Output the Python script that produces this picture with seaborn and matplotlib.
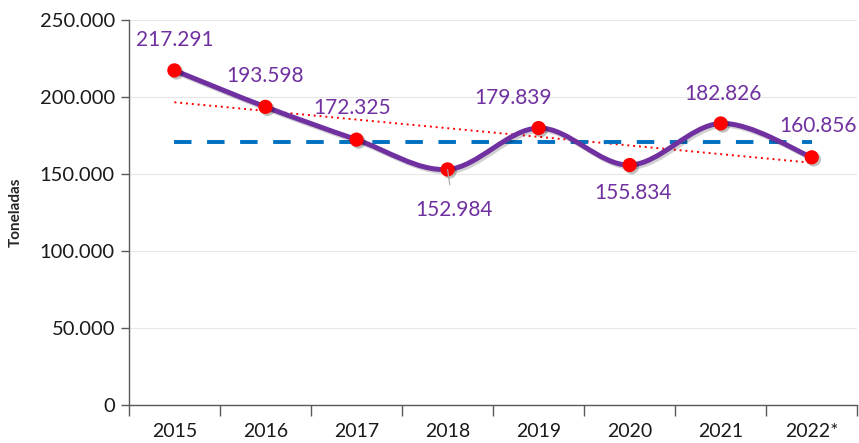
import numpy as np
import pandas as pd
import matplotlib
matplotlib.use("Agg")
import matplotlib.pyplot as plt
import matplotlib.patheffects as pe
from matplotlib.path import Path
from matplotlib.patches import PathPatch
from matplotlib.ticker import FuncFormatter, FixedLocator
import seaborn as sns

# --- dados ---
anos = ["2015", "2016", "2017", "2018", "2019", "2020", "2021", "2022*"]
toneladas = [217291, 193598, 172325, 152984, 179839, 155834, 182826, 160856]
media_ref = 171000  # linha tracejada azul

# deslocamento dos rótulos (pixels) em relação a cada ponto
label_offsets = [(0, 30), (0, 31), (-4, 32), (6, -41), (-26, 30), (3, -28), (2, 29), (6, 31)]

ROXO = "#7030A0"
VERMELHO = "#FF0000"
AZUL = "#0070C0"

df = pd.DataFrame({"ano": anos, "x": np.arange(len(anos)), "t": toneladas})

sns.set_theme(style="white")
plt.rcParams["font.family"] = ["Lato", "DejaVu Sans"]

fig = plt.figure(figsize=(8.59, 4.43), dpi=100)
ax = fig.add_axes([0.150, 0.0858, 0.848, 0.869])

# curva suavizada (estilo Excel) a partir dos pontos
pts = df[["x", "t"]].to_numpy(dtype=float)
ext = np.vstack([pts[0], pts, pts[-1]])
verts = [tuple(pts[0])]
codes = [Path.MOVETO]
for i in range(len(pts) - 1):
    p0, p1, p2, p3 = ext[i], ext[i + 1], ext[i + 2], ext[i + 3]
    c1 = p1 + (p2 - p0) / 6
    c2 = p2 - (p3 - p1) / 6
    verts += [tuple(c1), tuple(c2), tuple(p2)]
    codes += [Path.CURVE4] * 3
curva = PathPatch(Path(verts, codes), facecolor="none", edgecolor=ROXO, lw=3.6,
                  capstyle="round", zorder=3,
                  path_effects=[pe.SimpleLineShadow(offset=(1.5, -1.5), alpha=0.18, shadow_color="black"),
                                pe.Normal()])
ax.add_patch(curva)

# linha de tendência linear
sns.regplot(data=df, x="x", y="t", ci=None, scatter=False, truncate=True, ax=ax,
            line_kws=dict(color=VERMELHO, lw=1.4, ls=(0, (1, 2)), zorder=2))

# linha de referência (tracejada)
sns.lineplot(x=[df["x"].iloc[0], df["x"].iloc[-1]], y=[media_ref, media_ref], ax=ax,
             color=AZUL, lw=2.8, ls=(0, (4.5, 4)), zorder=2)

# marcadores
sns.scatterplot(data=df, x="x", y="t", ax=ax, color=VERMELHO, s=105, edgecolor="none", zorder=4,
                path_effects=[pe.SimplePatchShadow(offset=(1.5, -1.5), alpha=0.25,
                                                   shadow_rgbFace="black"), pe.Normal()])

# rótulos de dados
for (xv, yv), (dx, dy) in zip(pts, label_offsets):
    txt = f"{yv:,.0f}".replace(",", ".")
    if dy < -35:
        ax.annotate(txt, (xv, yv), xytext=(dx, dy), textcoords="offset pixels",
                    ha="center", va="center", fontsize=15, color=ROXO, zorder=5,
                    arrowprops=dict(arrowstyle="-", color="#A6A6A6", lw=0.8, shrinkA=9, shrinkB=0))
    else:
        ax.annotate(txt, (xv, yv), xytext=(dx, dy), textcoords="offset pixels",
                    ha="center", va="center", fontsize=15, color=ROXO, zorder=5)

# eixos
ax.set_xlim(-0.5, len(anos) - 0.5)
ax.set_ylim(0, 250000)
ax.set_yticks(np.arange(0, 250001, 50000))
ax.yaxis.set_major_formatter(FuncFormatter(lambda v, p: f"{v:,.0f}".replace(",", ".")))
ax.set_xticks(df["x"])
ax.set_xticklabels(anos)
ax.xaxis.set_minor_locator(FixedLocator(np.arange(-0.5, len(anos), 1.0)))
ax.tick_params(axis="x", which="major", length=0, labelsize=14, pad=13, labelcolor="#1a1a1a")
ax.tick_params(axis="x", which="minor", length=8, width=1, color="#595959", direction="out", bottom=True)
ax.tick_params(axis="y", length=6, width=1, color="#595959", direction="out", left=True,
               labelsize=14.5, pad=4, labelcolor="#1a1a1a")
ax.grid(axis="y", color="#E6E6E6", lw=0.8)
ax.set_axisbelow(True)
for s in ["top", "right"]:
    ax.spines[s].set_visible(False)
for s in ["left", "bottom"]:
    ax.spines[s].set_color("#595959")
    ax.spines[s].set_linewidth(1)
ax.set_xlabel("")
ax.set_ylabel("Toneladas", fontsize=11, fontweight="bold", labelpad=12)

fig.savefig("out.png", dpi=100)
